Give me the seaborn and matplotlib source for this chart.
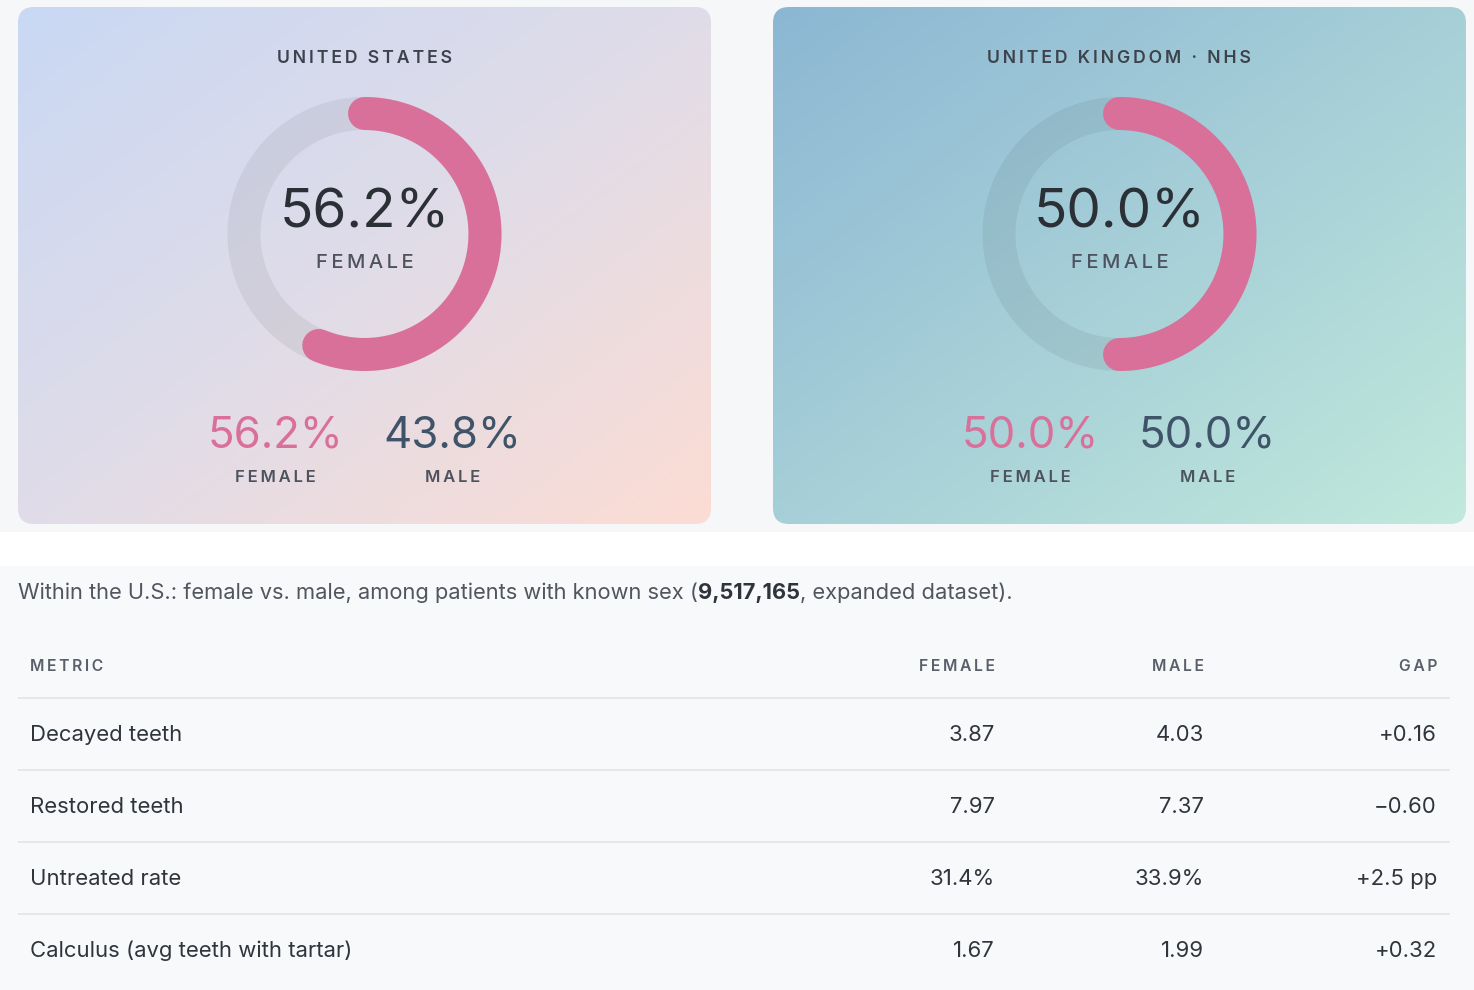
import numpy as np
import matplotlib
matplotlib.use("Agg")
import matplotlib.pyplot as plt
import seaborn as sns
from matplotlib.patches import FancyBboxPatch
from matplotlib.colors import LinearSegmentedColormap

# ---------------- data ----------------
regions = ["UNITED STATES", "UNITED KINGDOM · NHS"]
female_share = [56.2, 50.0]
male_share = [43.8, 50.0]

caption_pre = "Within the U.S.: female vs. male, among patients with known sex ("
caption_bold = "9,517,165"
caption_post = ", expanded dataset)."

table_columns = ["METRIC", "FEMALE", "MALE", "GAP"]
metrics = ["Decayed teeth", "Restored teeth", "Untreated rate", "Calculus (avg teeth with tartar)"]
female_vals = ["3.87", "7.97", "31.4%", "1.67"]
male_vals = ["4.03", "7.37", "33.9%", "1.99"]
gap_vals = ["+0.16", "\u22120.60", "+2.5 pp", "+0.32"]

# ---------------- style ----------------
sns.set_theme(style="white")
plt.rcParams["font.family"] = ["Inter", "DejaVu Sans"]

W, H = 1474, 990
DPI = 100
fig = plt.figure(figsize=(W / DPI, H / DPI), dpi=DPI, facecolor="#f6f7f9")
ax = fig.add_axes([0, 0, 1, 1])
ax.set_xlim(0, W)
ax.set_ylim(H, 0)
ax.axis("off")

PINK = "#d9709a"
SLATE = "#3f5468"
DARK = "#2b2f36"
LABEL = "#4d535e"


def spaced(s, sp="\u2009"):
    return sp.join(list(s))


# background bands
ax.add_patch(plt.Rectangle((0, 532), W, 34, facecolor="white", edgecolor="none", zorder=0))
ax.add_patch(plt.Rectangle((0, 566), W, H - 566, facecolor="#f8f9fb", edgecolor="none", zorder=0))

cards = [
    dict(x0=18, x1=711, c=["#c9d8f4", "#e0dce8", "#fcdcd4"]),
    dict(x0=773, x1=1466, c=["#8cb7d3", "#a6cfd8", "#c1e9dc"]),
]
y0, y1 = 7, 524

for i, card in enumerate(cards):
    x0, x1 = card["x0"], card["x1"]
    cx = (x0 + x1) / 2
    cmap = LinearSegmentedColormap.from_list("g%d" % i, card["c"])
    n = 200
    gx, gy = np.meshgrid(np.linspace(0, 1, n), np.linspace(0, 1, n))
    grad = (gx + gy) / 2
    patch = FancyBboxPatch((x0, y0), x1 - x0, y1 - y0,
                           boxstyle="round,pad=0,rounding_size=16",
                           facecolor="none", edgecolor="none", zorder=1)
    ax.add_patch(patch)
    im = ax.imshow(grad, cmap=cmap, extent=(x0, x1, y1, y0), origin="upper",
                   aspect="auto", zorder=1, interpolation="bilinear")
    im.set_clip_path(patch)

    # title
    ax.text(cx, 63, spaced(regions[i]),
            ha="center", va="baseline", fontsize=12.7, fontweight="semibold",
            color="#3d434d", zorder=3)

    # donut (polar axes)
    dcx, dcy, R = cx, 234, 140
    pa = fig.add_axes([(dcx - R) / W, 1 - (dcy + R) / H, 2 * R / W, 2 * R / H],
                      projection="polar")
    pa.set_theta_zero_location("N")
    pa.set_theta_direction(-1)
    pa.set_ylim(0, R)
    pa.axis("off")
    pa.patch.set_alpha(0)
    ring_r = 120.5
    lw = 33 * 72 / DPI
    th_full = np.linspace(0, 2 * np.pi, 400)
    pa.plot(th_full, np.full_like(th_full, ring_r), color="black", alpha=0.06,
            lw=lw, solid_capstyle="butt")
    th = np.linspace(0, 2 * np.pi * female_share[i] / 100, 300)
    sns.lineplot(x=th, y=np.full_like(th, ring_r), ax=pa, sort=False,
                 estimator=None, errorbar=None, color=PINK, lw=lw,
                 solid_capstyle="round")
    pa.set_xlabel("")
    pa.set_ylabel("")

    ax.text(cx, 228, f"{female_share[i]:.1f}%", ha="center", va="baseline",
            fontsize=39.5, color=DARK, zorder=3)
    ax.text(cx, 268, spaced("FEMALE"), ha="center", va="baseline",
            fontsize=14.5, color=LABEL, fontweight="medium", zorder=3)

    # bottom stats
    ax.text(cx - 89, 448, f"{female_share[i]:.1f}%", ha="center", va="baseline",
            fontsize=31.5, color=PINK, zorder=3)
    ax.text(cx + 88, 448, f"{male_share[i]:.1f}%", ha="center", va="baseline",
            fontsize=31.5, color=SLATE, zorder=3)
    ax.text(cx - 89, 482, spaced("FEMALE"), ha="center", va="baseline",
            fontsize=12, color=LABEL, fontweight="semibold", zorder=3)
    ax.text(cx + 88, 482, spaced("MALE"), ha="center", va="baseline",
            fontsize=12, color=LABEL, fontweight="semibold", zorder=3)

# caption
FS = 15.9
CFS = 15.75
t1 = ax.text(18, 599, caption_pre, ha="left", va="baseline", fontsize=CFS, color="#50555e", zorder=3)
t2 = ax.annotate(caption_bold, xy=(1, 0), xycoords=t1, ha="left", va="bottom",
                 fontsize=CFS, color="#2f343c", fontweight="bold", zorder=3)
t3 = ax.annotate(caption_post, xy=(1, 0), xycoords=t2, ha="left", va="bottom",
                 fontsize=CFS, color="#50555e", zorder=3)

# table
col_x = [30, 995, 1204, 1437]
col_ha = ["left", "right", "right", "right"]
for c, x, ha in zip(table_columns, col_x, col_ha):
    ax.text(x, 671, spaced(c), ha=ha, va="baseline", fontsize=11.3,
            fontweight="semibold", color="#5a606a", zorder=3)

line_y = [698, 770, 842, 914]
ax.hlines(line_y, 18, 1450, color="#e2e4e8", lw=1.2, zorder=2)

row_base = [741, 813, 885, 957]
for yb, m, f, mm, g in zip(row_base, metrics, female_vals, male_vals, gap_vals):
    ax.text(col_x[0], yb, m, ha="left", va="baseline", fontsize=FS, color="#30353d", zorder=3)
    ax.text(col_x[1], yb, f, ha="right", va="baseline", fontsize=FS, color="#30353d", zorder=3)
    ax.text(col_x[2], yb, mm, ha="right", va="baseline", fontsize=FS, color="#30353d", zorder=3)
    ax.text(col_x[3], yb, g, ha="right", va="baseline", fontsize=FS, color="#30353d", zorder=3)

fig.savefig("out.png", dpi=DPI, facecolor=fig.get_facecolor())
